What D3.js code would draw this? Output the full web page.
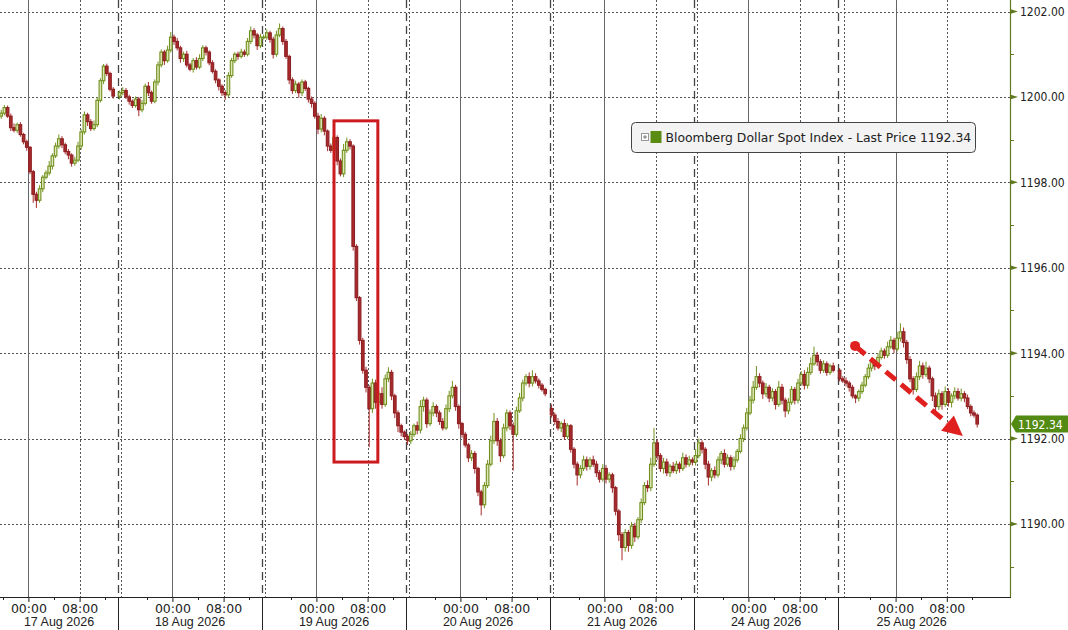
<!DOCTYPE html>
<html>
<head>
<meta charset="utf-8">
<script src="https://cdn.jsdelivr.net/npm/d3@7"></script>
<style>
  body { margin: 0; background: #fff; }
  svg { display: block; font-family: 'DejaVu Sans', sans-serif; }
</style>
</head>
<body>
<svg id="chart" width="1068" height="630"></svg>
<script>
// sessions (trading days), each runs from the previous evening to 14:00
const sessionLabels = ['17 Aug 2026', '18 Aug 2026', '19 Aug 2026', '20 Aug 2026', '21 Aug 2026', '24 Aug 2026', '25 Aug 2026'];
const sessionOpenHour = [15.5, 15.5, 15.5, 15.5, 15.5, 15.5, 15];
const sessionCloseHour = 14;
const firstBarHour = [19.5, 15.5, 15.5, 15.5, 15.5, 15.5, 15];
const sessionOpen = [1199.55, 1200.02, 1201.4, 1192.05, 1192.7, 1191.45, 1193.6];

// 30 minute closes, one list per session
const closes = [
  [1199.62, 1199.75, 1199.55, 1199.28, 1199.22, 1199.35, 1199.12, 1198.95, 1198.82, 1198.25, 1197.72, 1197.58, 1197.85, 1198.12, 1198.22, 1198.38, 1198.62, 1198.85, 1199.02, 1198.88, 1198.72, 1198.64, 1198.45, 1198.52, 1198.85, 1199.18, 1199.58, 1199.42, 1199.26, 1199.35, 1199.92, 1200.38, 1200.72, 1200.55, 1200.18, 1200.02],
  [1200.1, 1200.15, 1200.0, 1199.9, 1199.8, 1199.95, 1199.7, 1199.85, 1200.25, 1200.1, 1199.9, 1200.35, 1200.75, 1201.05, 1200.85, 1201.1, 1201.4, 1201.3, 1201.15, 1200.9, 1201.0, 1200.75, 1200.65, 1200.85, 1200.7, 1200.9, 1201.15, 1201.05, 1200.8, 1200.6, 1200.4, 1200.25, 1200.1, 1200.05, 1200.5, 1200.85, 1201.0, 1200.95, 1201.05, 1201.0, 1201.3, 1201.55, 1201.45, 1201.2, 1201.4],
  [1201.4, 1201.5, 1201.35, 1201.0, 1201.45, 1201.6, 1201.3, 1200.95, 1200.4, 1200.15, 1200.3, 1200.1, 1200.35, 1200.2, 1199.95, 1199.85, 1199.55, 1199.25, 1199.5, 1199.2, 1198.85, 1198.75, 1199.05, 1198.5, 1198.2, 1198.75, 1198.95, 1198.85, 1196.5, 1195.3, 1194.3, 1193.6, 1193.2, 1192.7, 1193.3, 1192.85, 1193.05, 1192.8, 1193.4, 1193.55, 1193.0, 1192.6, 1192.3, 1192.15, 1192.05],
  [1191.95, 1192.1, 1192.3, 1192.2, 1192.75, 1192.9, 1192.35, 1192.6, 1192.75, 1192.6, 1192.4, 1192.25, 1192.7, 1193.0, 1193.2, 1192.75, 1192.35, 1192.1, 1191.85, 1191.55, 1191.65, 1191.3, 1190.75, 1190.45, 1190.9, 1191.4, 1191.95, 1192.4, 1191.95, 1191.6, 1192.25, 1192.6, 1192.3, 1192.1, 1192.65, 1192.95, 1193.3, 1193.45, 1193.3, 1193.45, 1193.35, 1193.25, 1193.15, 1193.05],
  [1192.55, 1192.4, 1192.25, 1192.35, 1192.05, 1192.3, 1191.75, 1191.4, 1191.15, 1191.3, 1191.5, 1191.35, 1191.5, 1191.4, 1191.2, 1191.05, 1191.3, 1191.05, 1191.15, 1190.85, 1190.3, 1189.75, 1189.45, 1189.8, 1189.5, 1189.95, 1189.7, 1190.1, 1190.5, 1190.9, 1190.85, 1191.4, 1191.9, 1191.6, 1191.3, 1191.45, 1191.2, 1191.35, 1191.25, 1191.4, 1191.3, 1191.55, 1191.4, 1191.5, 1191.45],
  [1191.6, 1191.9, 1191.75, 1191.4, 1191.1, 1191.25, 1191.15, 1191.5, 1191.65, 1191.4, 1191.55, 1191.35, 1191.5, 1191.7, 1192.0, 1192.25, 1192.6, 1192.9, 1193.2, 1193.45, 1193.3, 1193.05, 1193.2, 1192.95, 1193.1, 1192.8, 1193.2, 1192.9, 1192.65, 1192.85, 1193.15, 1192.9, 1193.3, 1193.5, 1193.25, 1193.55, 1193.75, 1193.95, 1193.8, 1193.6, 1193.75, 1193.55, 1193.7, 1193.6],
  [1193.4, 1193.35, 1193.3, 1193.2, 1193.0, 1192.95, 1193.1, 1193.25, 1193.45, 1193.65, 1193.8, 1193.7, 1193.9, 1194.05, 1193.95, 1194.15, 1194.3, 1194.1, 1194.35, 1194.5, 1194.25, 1193.85, 1193.4, 1193.15, 1193.45, 1193.7, 1193.5, 1193.65, 1193.4, 1193.0, 1192.75, 1193.05, 1192.8, 1193.1, 1192.85, 1193.0, 1193.1, 1192.95, 1193.05, 1192.95, 1192.75, 1192.6, 1192.55, 1192.34]
];

// wick lengths beyond the body, in hundredths
const wickUp = [
  [8, 6, 5, 6, 10, 5, 6, 4, 5, 3, 4, 6, 8, 5, 6, 12, 6, 8, 10, 6, 5, 6, 4, 8, 10, 6, 8, 5, 6, 10, 8, 6, 5, 6, 4, 5],
  [5, 8, 6, 5, 4, 6, 5, 8, 6, 10, 5, 6, 8, 6, 5, 10, 12, 6, 8, 5, 6, 8, 5, 6, 8, 10, 6, 5, 4, 6, 5, 4, 5, 6, 8, 6, 5, 6, 8, 6, 8, 10, 6, 5, 8],
  [6, 8, 5, 6, 10, 12, 5, 6, 4, 6, 8, 5, 6, 5, 4, 6, 5, 8, 10, 5, 4, 6, 8, 5, 6, 15, 10, 6, 4, 5, 4, 6, 8, 5, 10, 8, 6, 15, 10, 12, 6, 5, 6, 5, 4],
  [6, 8, 5, 10, 15, 8, 6, 8, 10, 5, 6, 8, 10, 12, 15, 6, 5, 4, 6, 5, 8, 6, 4, 5, 8, 10, 12, 20, 8, 6, 10, 8, 6, 8, 10, 12, 8, 6, 10, 15, 8, 6, 5, 4],
  [10, 6, 8, 5, 10, 6, 4, 5, 6, 8, 10, 8, 6, 10, 8, 6, 10, 8, 6, 5, 4, 5, 6, 8, 6, 10, 8, 6, 10, 8, 12, 15, 35, 8, 6, 10, 8, 6, 10, 8, 6, 12, 8, 10, 6],
  [15, 10, 6, 5, 8, 6, 10, 8, 6, 10, 8, 6, 8, 6, 10, 8, 12, 10, 15, 25, 8, 6, 10, 6, 8, 6, 15, 8, 6, 10, 8, 6, 10, 8, 10, 12, 15, 20, 8, 6, 8, 6, 5, 8],
  [5, 6, 8, 5, 6, 4, 5, 8, 6, 10, 8, 6, 10, 8, 6, 12, 10, 6, 15, 20, 10, 6, 8, 6, 10, 12, 8, 15, 6, 5, 8, 10, 6, 12, 8, 6, 10, 8, 12, 6, 8, 5, 6, 4]
];
const wickDown = [
  [6, 5, 4, 8, 5, 6, 5, 6, 8, 6, 20, 18, 6, 8, 5, 6, 8, 5, 6, 8, 6, 10, 8, 6, 5, 8, 6, 10, 6, 5, 6, 5, 8, 6, 5, 6],
  [8, 6, 5, 8, 6, 5, 15, 6, 5, 8, 6, 5, 8, 6, 10, 5, 6, 8, 6, 10, 8, 6, 5, 8, 6, 5, 6, 8, 6, 5, 8, 10, 8, 12, 6, 5, 6, 8, 5, 6, 5, 6, 8, 10, 6],
  [5, 6, 8, 10, 6, 5, 8, 6, 10, 8, 6, 12, 8, 6, 8, 10, 6, 12, 8, 10, 12, 6, 15, 10, 6, 8, 6, 8, 10, 8, 10, 8, 12, 90, 10, 15, 8, 10, 6, 8, 10, 12, 15, 10, 8],
  [10, 8, 6, 10, 8, 12, 10, 6, 8, 10, 8, 6, 5, 8, 6, 10, 12, 8, 6, 10, 8, 12, 10, 25, 8, 6, 5, 8, 12, 15, 6, 8, 10, 85, 6, 5, 8, 6, 10, 8, 6, 8, 5, 6],
  [6, 8, 6, 10, 8, 6, 8, 10, 25, 8, 6, 10, 8, 6, 10, 8, 6, 10, 8, 12, 10, 15, 30, 10, 15, 8, 12, 6, 8, 6, 10, 8, 6, 10, 8, 12, 8, 10, 6, 8, 10, 6, 8, 6, 8],
  [8, 6, 10, 12, 20, 10, 8, 6, 10, 8, 6, 10, 8, 6, 5, 8, 6, 5, 8, 6, 10, 12, 8, 10, 8, 12, 6, 10, 15, 8, 6, 10, 8, 6, 10, 8, 6, 5, 10, 8, 6, 8, 6, 5],
  [6, 5, 8, 10, 6, 12, 8, 6, 5, 6, 8, 10, 6, 5, 8, 6, 5, 10, 6, 8, 12, 10, 8, 12, 6, 8, 10, 6, 10, 12, 15, 8, 12, 6, 10, 12, 8, 6, 8, 10, 6, 8, 6, 8]
];

const yTicks = [1190, 1192, 1194, 1196, 1198, 1200, 1202];
const yMinorTicks = [1189, 1191, 1193, 1195, 1197, 1199, 1201];
const labelHours = [0, 8];          // labelled time ticks per session
const dottedHours = [-8, 8];        // 16:00 (previous day) and 08:00
const minorHours = [-4, 4, 12];     // 20:00, 04:00, 12:00
const seriesName = 'Bloomberg Dollar Spot Index - Last Price';
const lastPrice = 1192.34;

// annotations: {session, hour relative to that session's midnight, price}
const boxCorners = [{s: 2, h: 2.75, v: 1199.44}, {s: 2, h: 9.6, v: 1191.45}];
const arrowEnds = [{s: 6, h: -6.33, v: 1194.17}, {s: 6, h: 10.5, v: 1192.06}];

const W = 1068, H = 630;
const plotRight = 1010, plotBottom = 597;
const fontSize = '12.5px';
const priceFont = '12px';
const priceFamily = "'DejaVu Sans Condensed', 'Liberation Sans', sans-serif";

// trading-hour positions of each session start
const sessionLen = sessionOpenHour.map(o => 24 - o + sessionCloseHour);
const sessionStart = [];
sessionLen.reduce((acc, len, i) => { sessionStart[i] = acc; return acc + len; }, 0);
const tAt = (s, h) => sessionStart[s] + h + 24 - sessionOpenHour[s];

const x = d3.scaleLinear().domain([0, 161.875]).range([-26, plotRight]);
const y = d3.scaleLinear().domain([1188.29, 1202.27]).range([plotBottom, 0]);

const svg = d3.select('#chart');
svg.append('rect').attr('width', W).attr('height', H).attr('fill', '#fff');

const plot = svg.append('g');
plot.append('clipPath').attr('id', 'clip')
  .append('rect').attr('x', 0).attr('y', 0).attr('width', plotRight).attr('height', plotBottom);

// horizontal grid
plot.append('g').selectAll('line')
  .data(yTicks)
  .enter()
  .append('line')
  .attr('x1', 0).attr('x2', plotRight)
  .attr('y1', d => Math.round(y(d)) + 0.5).attr('y2', d => Math.round(y(d)) + 0.5)
  .attr('stroke', '#555').attr('stroke-dasharray', '2,2');

// vertical grid
const vGrid = [];
sessionLabels.forEach((lab, s) => {
  vGrid.push({t: tAt(s, 0), kind: 'solid'});
  dottedHours.forEach(h => vGrid.push({t: tAt(s, h), kind: 'dot'}));
  if (s > 0) vGrid.push({t: sessionStart[s], kind: 'break'});
});
plot.append('g').attr('clip-path', 'url(#clip)').selectAll('line')
  .data(vGrid)
  .enter()
  .append('line')
  .attr('x1', d => Math.round(x(d.t)) + 0.5).attr('x2', d => Math.round(x(d.t)) + 0.5)
  .attr('y1', 0).attr('y2', plotBottom)
  .attr('stroke', d => d.kind === 'solid' ? '#666' : (d.kind === 'break' ? '#444' : '#555'))
  .attr('stroke-width', d => d.kind === 'break' ? 1.3 : 1)
  .attr('stroke-dasharray', d => d.kind === 'solid' ? null : (d.kind === 'break' ? '8,5' : '2,2'));

// candles
const bars = [];
closes.forEach((list, s) => {
  let prev = sessionOpen[s];
  list.forEach((c, j) => {
    const o = prev;
    const h = firstBarHour[s] - 24 + 0.5 * j;
    bars.push({
      t: tAt(s, h) + 0.25,
      open: o,
      close: c,
      high: Math.max(o, c) + (wickUp[s][j] || 5) / 100,
      low: Math.min(o, c) - (wickDown[s][j] || 5) / 100
    });
    prev = c;
  });
});

const upCol = '#71901c', dnCol = '#a82a2a';
const candles = plot.append('g').attr('clip-path', 'url(#clip)')
  .selectAll('g.candle')
  .data(bars)
  .enter()
  .append('g')
  .attr('class', 'candle');

candles.append('line')
  .attr('x1', d => x(d.t)).attr('x2', d => x(d.t))
  .attr('y1', d => y(d.high)).attr('y2', d => y(d.low))
  .attr('stroke', d => d.close >= d.open ? upCol : dnCol)
  .attr('stroke-width', 1);

candles.append('rect')
  .attr('x', d => x(d.t) - 1.3)
  .attr('width', 2.6)
  .attr('y', d => y(Math.max(d.open, d.close)))
  .attr('height', d => Math.max(0.8, Math.abs(y(d.open) - y(d.close))))
  .attr('fill', d => d.close >= d.open ? '#dfe6b8' : dnCol)
  .attr('stroke', d => d.close >= d.open ? upCol : '#8e2024')
  .attr('stroke-width', 1.1);

// right axis
const axisR = svg.append('g').attr('transform', `translate(${plotRight},0)`);
axisR.call(d3.axisRight(y).tickValues(yTicks).tickFormat(d3.format('.2f')).tickSize(0).tickPadding(10));
axisR.select('.domain').remove();
axisR.selectAll('text').attr('font-size', priceFont).attr('fill', '#222').attr('font-family', priceFamily);
axisR.append('line').attr('x1', 0.5).attr('x2', 0.5).attr('y1', 0).attr('y2', plotBottom)
  .attr('stroke', '#5f7a1e').attr('stroke-width', 1.2);
axisR.append('g').selectAll('path')
  .data(yTicks)
  .enter()
  .append('path')
  .attr('d', d => `M0,${y(d) - 2.5}L8,${y(d)}L0,${y(d) + 2.5}Z`)
  .attr('fill', '#5f7a1e');
axisR.append('g').selectAll('line')
  .data(yMinorTicks)
  .enter()
  .append('line')
  .attr('x1', 0).attr('x2', 4)
  .attr('y1', d => Math.round(y(d)) + 0.5).attr('y2', d => Math.round(y(d)) + 0.5)
  .attr('stroke', '#5f7a1e');

// bottom axis
const majorT = [], majorLab = new Map(), minorT = [];
sessionLabels.forEach((lab, s) => {
  labelHours.forEach(h => {
    const t = tAt(s, h);
    majorT.push(t);
    majorLab.set(t, (h < 10 ? '0' : '') + h + ':00');
  });
  minorHours.forEach(h => minorT.push(tAt(s, h)));
});
const axisB = svg.append('g').attr('transform', `translate(0,${plotBottom})`);
axisB.call(d3.axisBottom(x).tickValues(majorT.filter(t => x(t) >= 0))
  .tickFormat(t => majorLab.get(t)).tickSize(5).tickPadding(2));
axisB.select('.domain').remove();
axisB.selectAll('.tick line').attr('stroke', '#222');
axisB.selectAll('text').attr('font-size', fontSize).attr('fill', '#222').attr('font-family', "'DejaVu Sans', sans-serif");
axisB.append('line').attr('x1', 0).attr('x2', plotRight + 1).attr('y1', 0.5).attr('y2', 0.5)
  .attr('stroke', '#222');
axisB.append('g').selectAll('line')
  .data(minorT.filter(t => x(t) >= 0 && x(t) <= plotRight))
  .enter()
  .append('line')
  .attr('x1', d => Math.round(x(d)) + 0.5).attr('x2', d => Math.round(x(d)) + 0.5)
  .attr('y1', 0).attr('y2', 3)
  .attr('stroke', '#222');
// session separators below the axis
axisB.append('g').selectAll('line')
  .data(sessionStart.slice(1))
  .enter()
  .append('line')
  .attr('x1', d => Math.round(x(d)) + 0.5).attr('x2', d => Math.round(x(d)) + 0.5)
  .attr('y1', 0).attr('y2', H - plotBottom)
  .attr('stroke', '#222');
// day labels, centred in the visible part of each session
axisB.append('g').selectAll('text')
  .data(sessionLabels)
  .enter()
  .append('text')
  .attr('x', (d, i) => {
    const a = Math.max(0, x(sessionStart[i]));
    const b = Math.min(plotRight, x(sessionStart[i] + sessionLen[i]));
    return (a + b) / 2;
  })
  .attr('y', 29)
  .attr('text-anchor', 'middle')
  .attr('font-size', fontSize)
  .attr('fill', '#222')
  .text(d => d);

// last price tag
const ly = y(lastPrice);
svg.append('path')
  .attr('d', `M${plotRight + 1},${ly}L${plotRight + 6},${ly - 8.5}L${W},${ly - 8.5}L${W},${ly + 8.5}L${plotRight + 6},${ly + 8.5}Z`)
  .attr('fill', '#538a12');
svg.append('text')
  .attr('x', plotRight + 8).attr('y', ly + 4.5)
  .attr('font-size', priceFont).attr('font-family', priceFamily).attr('fill', '#fff')
  .text(d3.format('.2f')(lastPrice));

// legend
const leg = svg.append('g').attr('transform', 'translate(631.5,122.5)');
leg.append('rect').attr('width', 344).attr('height', 30).attr('rx', 4)
  .attr('fill', '#f3f3f3').attr('stroke', '#444');
leg.append('rect').attr('x', 10).attr('y', 11).attr('width', 7).attr('height', 7)
  .attr('fill', '#fff').attr('stroke', '#999');
leg.append('path').attr('d', 'M11.5,14.5H15.5M13.5,12.5V16.5').attr('stroke', '#777');
leg.append('rect').attr('x', 19).attr('y', 8.5).attr('width', 11).attr('height', 12).attr('fill', '#5b8c12');
leg.append('text').attr('x', 34).attr('y', 19.5)
  .attr('font-size', '12.4px').attr('fill', '#222')
  .text(`${seriesName} ${d3.format('.2f')(lastPrice)}`);

// annotations
const annColor = '#cc1a1f';
const bx0 = x(tAt(boxCorners[0].s, boxCorners[0].h)), bx1 = x(tAt(boxCorners[1].s, boxCorners[1].h));
const by0 = y(boxCorners[0].v), by1 = y(boxCorners[1].v);
svg.append('rect')
  .attr('x', bx0).attr('y', by0).attr('width', bx1 - bx0).attr('height', by1 - by0)
  .attr('fill', 'none').attr('stroke', annColor).attr('stroke-width', 3);

const ax0 = x(tAt(arrowEnds[0].s, arrowEnds[0].h)), ay0 = y(arrowEnds[0].v);
const ax1 = x(tAt(arrowEnds[1].s, arrowEnds[1].h)), ay1 = y(arrowEnds[1].v);
const ang = Math.atan2(ay1 - ay0, ax1 - ax0);
const headLen = 20, headW = 10;
const bxh = ax1 - headLen * Math.cos(ang), byh = ay1 - headLen * Math.sin(ang);
svg.append('line')
  .attr('x1', ax0).attr('y1', ay0).attr('x2', bxh).attr('y2', byh)
  .attr('stroke', '#e0201e').attr('stroke-width', 5).attr('stroke-dasharray', '13,7');
svg.append('circle').attr('cx', ax0).attr('cy', ay0).attr('r', 5).attr('fill', '#e0201e');
svg.append('path')
  .attr('d', `M${ax1},${ay1}L${bxh + headW * Math.sin(ang)},${byh - headW * Math.cos(ang)}L${bxh - headW * Math.sin(ang)},${byh + headW * Math.cos(ang)}Z`)
  .attr('fill', '#e0201e');
</script>
</body>
</html>
